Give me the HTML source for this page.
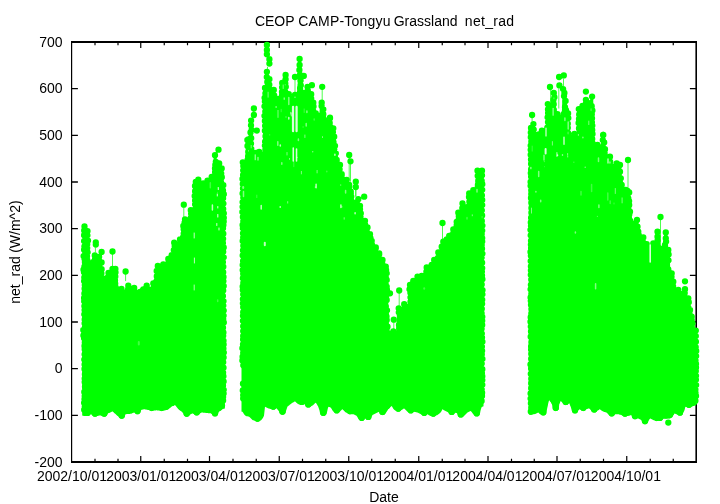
<!DOCTYPE html>
<html lang="en"><head><meta charset="utf-8"><title>CEOP CAMP-Tongyu Grassland net_rad</title>
<style>html,body{margin:0;padding:0;background:#fff;overflow:hidden}svg{display:block}</style></head>
<body>
<svg width="720" height="504" viewBox="0 0 720 504" role="img" aria-label="CEOP CAMP-Tongyu Grassland net_rad time series">
<rect x="0" y="0" width="720" height="504" fill="#fff"/>
<g stroke="#000" fill="none">
<path stroke-width="1.9" d="M71.0 42.0H697.0M71.0 462.0H697.0"/>
<path stroke-width="1.2" d="M71.6 42.0V462.0"/><path stroke-width="1.6" d="M696.2 42.0V462.0"/>
<path stroke-width="1.2" d="M95 462.0v-3.2M95 42.0v3.2M118 462.0v-3.2M118 42.0v3.2M140.75 462.0v-6M140.75 42.0v6M164.25 462.0v-3.2M164.25 42.0v3.2M187.5 462.0v-3.2M187.5 42.0v3.2M209.5 462.0v-6M209.5 42.0v6M233 462.0v-3.2M233 42.0v3.2M256.25 462.0v-3.2M256.25 42.0v3.2M279.25 462.0v-6M279.25 42.0v6M302.5 462.0v-3.2M302.5 42.0v3.2M325.75 462.0v-3.2M325.75 42.0v3.2M348.75 462.0v-6M348.75 42.0v6M371.75 462.0v-3.2M371.75 42.0v3.2M395.25 462.0v-3.2M395.25 42.0v3.2M418.75 462.0v-6M418.75 42.0v6M442.25 462.0v-3.2M442.25 42.0v3.2M465 462.0v-3.2M465 42.0v3.2M488 462.0v-6M488 42.0v6M511.5 462.0v-3.2M511.5 42.0v3.2M534.25 462.0v-3.2M534.25 42.0v3.2M557 462.0v-6M557 42.0v6M580.25 462.0v-3.2M580.25 42.0v3.2M603.5 462.0v-3.2M603.5 42.0v3.2M626.75 462.0v-6M626.75 42.0v6M650.25 462.0v-3.2M650.25 42.0v3.2M673.25 462.0v-3.2M673.25 42.0v3.2"/>
<path stroke-width="1.4" d="M71.6 415.33h6.3M696.2 415.33h-6.3M71.6 368.67h6.3M696.2 368.67h-6.3M71.6 322.00h6.3M696.2 322.00h-6.3M71.6 275.33h6.3M696.2 275.33h-6.3M71.6 228.67h6.3M696.2 228.67h-6.3M71.6 182.00h6.3M696.2 182.00h-6.3M71.6 135.33h6.3M696.2 135.33h-6.3M71.6 88.67h6.3M696.2 88.67h-6.3"/>
</g>
<g fill="#00ff00" stroke="none"><polygon points="82.2,255.5 82.8,240.5 83.2,225.8 83.8,225.2 84.2,225 84.8,225 85.2,225.2 85.8,225.8 86.2,228.8 86.8,229.2 87.2,229.5 87.8,229.8 88.2,229.8 88.8,230.5 89.2,261 89.8,261.5 90.2,261.8 91.2,261.8 91.8,261.5 92.2,261 92.8,260.2 93.2,255.2 93.8,254.2 94.2,254 95.2,254 95.8,254.5 96.2,255 96.8,255.5 98.2,255.5 98.8,255.2 99.2,255.2 99.8,255.5 100.2,255.8 100.8,267 101.2,267.5 101.8,267.8 102.2,268 102.8,268.2 103.2,276.8 103.8,277.2 104.2,277.5 105.2,277.5 105.8,277.2 106.2,276.8 106.8,276.2 107.2,272.2 107.8,271.8 108.2,271.5 109.8,271.5 110.2,271.2 110.8,270.8 111.2,268.2 111.8,267.8 112.2,267.5 112.8,267.5 113.2,267.8 114.8,267.8 115.2,267.5 115.8,267.5 116.2,267.8 116.8,268.5 117.2,288.2 117.8,288.8 118.2,289 119.2,289 119.8,288.8 120.2,288.2 120.8,287.8 121.2,287.5 121.8,287.5 122.2,287.8 122.8,288.2 123.2,289 123.8,289.5 125.2,289.5 125.8,289 126.2,287.8 126.8,285.8 127.2,284.5 127.8,284.2 128.2,284 128.8,284.2 129.2,284.5 129.8,285.2 130.2,287.2 130.8,287.8 132.2,287.8 132.8,287.2 133.2,286.8 133.8,286.5 134.2,286.5 134.8,286.8 135.2,287 135.8,288.2 136.2,291 136.8,291.5 138.2,291.5 138.8,291 139.2,290.5 139.8,290.2 140.8,290.2 141.2,289.8 141.8,289.2 142.2,288.2 142.8,288 143.2,287.8 143.8,287.8 144.2,287.5 144.8,287 145.2,285.2 145.8,284.5 146.2,284.2 147.2,284.2 147.8,284.8 148.2,286 148.8,286.5 149.2,286.8 150.2,286.8 150.8,286.5 151.2,286 151.8,283.5 152.2,282.5 152.8,282.2 153.2,282 153.8,281.8 154.2,281.5 154.8,281 155.2,270.5 155.8,269.8 156.2,266 156.8,265 157.2,264.8 157.8,264.5 158.2,264.5 158.8,264.8 159.2,265.2 160.8,265.2 161.2,264.8 161.8,264.2 162.2,263.2 162.8,263 163.2,262.8 163.8,263 164.2,263.2 165.8,263.2 166.2,262.8 166.8,259 167.2,258 167.8,257.8 168.2,257.5 168.8,257.2 169.2,257 169.8,256.5 170.2,254.8 170.8,254 171.2,253.8 171.8,253.5 172.2,253 172.8,242.2 173.2,241.5 173.8,241.2 174.8,241.2 175.2,241.8 175.8,242.2 176.2,242.5 177.2,242.5 177.8,242.2 178.2,241.8 178.8,238.5 179.2,238 179.8,237.8 180.8,237.8 181.2,237.2 181.8,226 182.2,225 182.8,224.5 183.2,224 183.8,218.5 184.2,218 184.8,217.8 185.2,217.8 185.8,218 186.2,218.5 186.8,219 188.2,219 188.8,218.5 189.2,210.2 189.8,209 190.2,208.8 190.8,208.5 191.2,208.8 192.2,208.8 192.8,208.5 193.2,208 193.8,185.2 194.2,181.8 194.8,180.8 195.2,180.5 195.8,180.2 196.2,180 196.8,179.5 197.2,178.5 197.8,178.2 198.2,178 198.8,178.2 199.2,178.5 199.8,179.2 200.2,182 200.8,182.5 202.2,182.5 202.8,182.2 203.2,182 204.8,182 205.2,181.8 205.8,181.2 206.2,179.8 206.8,179.5 207.2,179.2 207.8,179 208.8,179 209.2,178.8 209.8,178.2 210.2,176.2 210.8,175.8 211.2,175.5 211.8,175.2 212.2,175.2 212.8,175 213.2,174.5 213.8,154.2 214.2,154 214.8,153.8 215.2,153.8 215.8,154 216.2,154.5 216.8,160.5 217.2,161.2 217.8,161.8 218.8,161.8 219.2,162 219.8,162.2 220.2,162.5 220.8,163.8 221.2,166.5 221.8,167 222.2,167.2 222.8,167.5 223.2,168.8 223.8,183.5 224.2,184 224.8,184.8 224.8,408.5 224.2,408.8 223.2,408.8 222.8,409 222.2,409.5 221.8,409.8 221.2,410.2 220.8,410.5 220.2,410.8 219.8,411.2 219.2,411.5 218.8,412 218.2,413.5 217.8,415 217.2,415.8 216.8,416 216.2,416.5 213.8,416.5 213.2,416 212.8,415.8 212.2,415 211.8,414 211.2,413.8 210.8,413.2 208.2,413.2 207.8,413 205.8,413 205.2,412.8 203.2,412.8 202.8,412.5 201.8,412.5 201.2,412.8 200.8,413 200.2,413.2 199.8,413.8 199.2,414.5 198.8,415 198.2,415.2 197.8,415.5 197.2,415.5 196.8,415.8 196.2,415.5 195.8,415.5 195.2,415.2 194.8,415 194.2,414.5 193.8,414 193.2,413.8 192.8,413.5 192.2,413.5 191.8,413.8 191.2,414 190.8,414.2 190.2,414.5 189.8,415 189.2,415.8 188.8,416.2 188.2,416.5 187.8,416.8 187.2,416.8 186.8,417 186.2,416.8 185.8,416.8 185.2,416.5 184.8,416.2 184.2,415.8 183.8,415 183.2,413.2 182.8,412.8 182.2,412.2 181.8,411.8 181.2,411.2 180.8,411 180.2,410.8 179.8,410.2 179.2,410 178.8,409.5 178.2,409 177.8,408.5 177.2,407.8 176.8,407.2 176.2,406.5 175.8,406 175.2,405.2 174.8,405 174.2,405.2 173.8,405.5 173.2,405.8 172.8,406 172.2,406.2 171.8,406.5 171.2,407 170.8,407.5 170.2,407.8 169.8,408.2 169.2,408.5 168.8,409 168.2,409.5 167.8,409.8 167.2,410 166.2,410 165.8,410.2 165.2,410.2 164.8,410.5 163.8,410.5 163.2,410.8 162.8,411 162.2,411 161.8,411.2 161.2,411 160.8,411 160.2,410.8 159.8,410.8 159.2,410.5 157.2,410.5 156.8,410.2 156.2,410.2 155.8,410.5 153.8,410.5 153.2,410.8 152.8,411 152.2,411 151.8,411.2 151.2,411 150.8,411 150.2,410.8 149.8,410.5 149.2,410.2 148.8,410 147.8,410 147.2,409.8 146.8,409.8 146.2,409.5 145.2,409.5 144.8,409.2 143.8,409.2 143.2,409.5 142.8,409.5 142.2,409.8 141.8,409.8 141.2,410 140.8,411.2 140.2,412.8 139.8,413.5 139.2,413.8 138.8,414.2 136.2,414.2 135.8,413.8 135.2,413.5 134.8,412.8 134.2,412.5 133.8,412.8 133.2,412.8 132.8,413 132.2,413.2 131.8,413.5 131.2,413.8 130.2,413.8 129.8,414 126.8,414 126.2,414.2 125.8,414.2 125.2,414.8 124.8,417 124.2,417.8 123.8,418.2 123.2,418.5 122.8,418.8 122.2,418.8 121.8,419 121.2,418.8 120.8,418.8 120.2,418.5 119.8,418.2 119.2,417.8 118.8,417 118.2,416.2 117.8,416 117.2,415.8 116.8,415.2 116.2,414.8 115.8,414.2 115.2,413.8 114.8,413.5 114.2,413 113.8,412.5 113.2,412 112.8,411.5 112.2,411.5 111.8,411.8 111.2,412 110.8,412.2 110.2,412.5 109.8,412.8 109.2,413 108.8,413 108.2,413.2 107.8,413.8 107.2,415 106.8,415.8 106.2,416.2 105.8,416.5 105.2,416.8 104.8,416.8 104.2,417 103.8,416.8 103.2,416.8 102.8,416.5 102.2,416.2 101.8,416 101.2,415.8 100.8,415.5 99.2,415.5 98.8,415.8 98.2,415.8 97.8,416 97.2,416 96.8,416.2 96.2,416.8 93.8,416.8 93.2,416.2 92.8,416 92.2,415.2 91.8,414.8 91.2,414.5 90.8,414.2 90.2,414.5 89.8,415.2 89.2,415.5 88.8,416 83.8,416 83.2,415.8 82.8,415.8 82.2,415.5"/><polygon points="241.5,161.5 242,161 242.5,160.8 243,160.8 243.5,161 244.5,161 245,160.8 245.5,160.2 246,139.2 246.5,138.8 247,138.5 247.5,138 248,137.8 248.5,137.2 249,132 249.5,120.5 250,119.5 250.5,119.2 251,119 251.5,119.2 252,119.5 252.5,120.2 253,151.2 253.5,151.8 255,151.8 255.5,151.5 257,151.5 257.5,151.2 258,151 258.5,150.5 259,150.2 259.5,150.5 260,150.8 260.5,151 261,151.5 262.5,151.5 263,151 263.5,87.5 264,86.8 264.5,86.5 265,86 265.5,71 266,70.5 266.5,70.2 267,70.2 267.5,70.5 268,70.8 268.5,77 269,77.5 269.5,77.8 270,78 270.5,78.2 271,87.8 271.5,88.2 272,88.5 273,88.5 273.5,88.2 274,88.5 274.5,88.8 275,89.2 275.5,97.2 276,97.8 276.5,98 277.5,98 278,97.8 278.5,97.5 279,97.2 279.5,97 280,96.8 280.5,96.2 281,82 281.5,81.8 282,81.5 282.5,81.5 283,81.2 283.5,80.8 284,79.2 284.5,78.2 285,78 285.5,77.8 286,77.8 286.5,78 287,79 287.5,92 288,92.5 288.5,92.8 289,92.8 289.5,93 290,93.5 290.5,94.5 291,95 291.5,95.2 292.5,95.2 293,95 293.5,94.5 294,93.8 294.5,93.5 295,93.2 295.5,93.5 297,93.5 297.5,93 298,64.8 298.5,63.8 299,63.5 299.5,63.2 300,63.5 300.5,63.8 301,64.5 301.5,79.2 302,80.2 302.5,90.8 303,91.2 303.5,91.5 305,91.5 305.5,91 306,86.2 306.5,85.5 307,85.2 307.5,85.2 308,85.5 308.5,85.8 309,86.8 309.5,92.2 310,92.8 311.5,92.8 312,93 312.5,93.5 313,100.5 313.5,101 314,101.5 314.5,101.8 315,111.2 315.5,111.8 316,112 316.5,112.2 317,112.5 317.5,113 319,113 319.5,112.5 320,102.8 320.5,101.8 321,101.2 322,101.2 322.5,101.5 323,102.2 323.5,107.5 324,108 324.5,108.5 325,111.8 325.5,117.2 326,117.8 326.5,118 327.5,118 328,117.8 328.5,117.2 329,116.5 329.5,116.2 330.5,116.2 331,116.5 331.5,117.8 332,126.2 332.5,126.8 333.5,126.8 334,127 334.5,127.5 335,135.5 335.5,136.2 336,144.8 336.5,146 337,152.5 337.5,158.8 338,159.5 338.5,162.8 339,163.2 339.5,163.2 340,163.5 340.5,163.8 341,164 341.5,165 342,172.5 342.5,173 343,173.8 343.5,178.5 344,179 345.5,179 346,178.8 346.5,178.5 347,178.5 347.5,178.8 348,179.5 348.5,183 349,183.5 349.5,183.5 350,183.8 350.5,184.5 351,190 351.5,190.5 352,190.8 352.5,192.8 353,195.2 353.5,197.8 354,199.2 354.5,199.8 356,199.8 356.5,199.2 357,198.5 357.5,198 358,197.8 358.5,197.8 359,198 359.5,198.2 360,203.8 360.5,204.2 361,204.8 361.5,206 362,212.5 362.5,218.5 363,219 363.5,219.2 365,219.2 365.5,219.5 366,219.8 366.5,221 367,225.5 367.5,226 368,226.2 368.5,226.5 369,227.5 369.5,232.2 370,232.8 370.5,232.8 371,233 371.5,234.2 372,239.2 372.5,239.8 373,240.2 373.5,245.5 374,246 376,246 376.5,246.2 377,246.8 377.5,251 378,251.5 378.5,251.8 379,251.8 379.5,252 380,252.2 380.5,252.8 381,257.8 381.5,258.2 382,258.2 382.5,258.5 383,258.8 383.5,259 384,260 384.5,264.5 385,265 385.5,265 386,265.2 386.5,265.5 387,265.8 387.5,272 388,272.8 388.5,325.5 389,326.8 389.5,330.5 390,331 391.5,331 392,330.5 392.5,330 393,329.8 393.5,329.8 394,330 394.5,330.5 396,330.5 396.5,330 397,308.5 397.5,307.2 398,307 398.5,306.8 399,307 399.5,307.2 400,307.5 401.5,307.5 402,307 402.5,304.2 403,303.2 403.5,302.8 404.5,302.8 405,303 405.5,303.5 406,304 407.5,304 408,303.5 408.5,284.5 409,283.8 409.5,283.5 410,283.5 410.5,283.2 411,283 411.5,282.5 412,280 412.5,279.5 413,279.2 415,279.2 415.5,278.8 416,276.2 416.5,275.5 417,275.2 418,275.2 418.5,275.5 419.5,275.5 420,275.2 420.5,274.8 421,274.5 421.5,274.2 422,274.5 422.5,274.8 424,274.8 424.5,274.2 425,267.8 425.5,266.5 426,266.2 426.5,266 427,266 427.5,266.2 429,266.2 429.5,265.8 430,265.2 430.5,264 431,263.8 431.5,263.5 432,263 432.5,260.2 433,259 433.5,258.8 434,258.5 435.5,258.5 436,258.2 436.5,257.8 437,251.8 437.5,251.2 438,251 438.5,251 439,250.8 439.5,250.2 440,246.8 440.5,245.8 441,245.2 441.5,244.8 442,241 442.5,240.5 443,240.2 443.5,240 444,240 444.5,239.8 445,239.2 445.5,238.2 446,238 446.5,237.8 447,237.2 447.5,236 448,234.8 448.5,234.5 449,234.2 450.5,234.2 451,234 451.5,233.5 452,228.5 452.5,228 453,227.8 454,227.8 454.5,227.2 455,222 455.5,220.8 456,220.2 456.5,219.8 457,212 457.5,211.5 458,211.2 460,211.2 460.5,210.8 461,203 461.5,202.2 462,202 462.5,202 463,202.2 463.5,202.5 464,203.5 464.5,204 465,204.2 466,204.2 466.5,204 467,203.5 467.5,193.8 468,192.5 468.5,192.2 469,192 470.5,192 471,191.8 471.5,191.2 472,189.5 472.5,189 473,188.8 475,188.8 475.5,188.2 476,170.2 476.5,169.5 477,169.2 478,169.2 478.5,169.5 479,170 480.5,170 481,169.5 481.5,169.2 482.5,169.2 483,169.5 483.5,170.8 483.5,406.2 483,406.5 482.5,406.8 482,406.8 481.5,407.5 481,409 480.5,410.8 480,413.5 479.5,415 479,415.8 478.5,416 478,416.5 475.5,416.5 475,416 474.5,415.8 474,415 473.5,414.2 473,413.8 472.5,413.2 472,412.5 471.5,411.8 471,411.2 470.5,411 470,411.2 469.5,411.5 469,411.8 468.5,412 468,412.2 467.5,412.5 467,413 466.5,413.5 466,414 465.5,414.5 465,415 464.5,415.5 464,416 463.5,416.2 463,416.8 462.5,417 462,417.5 459.5,417.5 459,417 458.5,416.8 458,416 457.5,414.5 457,413.2 456.5,413 456,412.8 455.5,412.8 455,412.5 454.5,413.5 454,414.2 453.5,414.5 453,415 450.5,415 450,414.5 449.5,414.2 449,413.5 448.5,412.8 448,412.2 447.5,412 447,411.8 446.5,411.5 446,411.2 445.5,411 445,410.8 444.5,410.5 444,410.2 443.5,410 443,409.5 442.5,409.2 442,410 441.5,411 441,412 440.5,412.5 440,413 439.5,413.5 439,413.8 438.5,414.2 438,414.5 437.5,415 437,415.2 436.5,415.2 436,415.5 435.5,416 435,416.2 434.5,416.8 432,416.8 431.5,416.2 431,416 430.5,416 430,415.8 429.5,415.5 429,415.2 428.5,415 428,414.5 427.5,414.2 427,414.5 426.5,415.2 426,415.5 425.5,416 423,416 422.5,415.5 422,415.2 421.5,414.5 421,414.2 420.5,414 420,413.8 419.5,413.5 419,413.2 418.5,413 418,412.8 417.5,412.5 417,412.5 416.5,412.2 416,412.2 415.5,412 415,412 414.5,411.8 414,411.8 413.5,412 413,412.8 412.5,413 412,413.5 409.5,413.5 409,413 408.5,412.8 408,412 407.5,411.8 407,411.2 406.5,410.8 406,410.2 405.5,409.8 405,409.2 404.5,408.8 404,408.5 403.5,408.8 403,409 402.5,409.5 402,409.8 401.5,410 401,410.2 400.5,411 400,411.2 399.5,411.8 397,411.8 396.5,411.2 396,411 395.5,410.5 395,410.2 394.5,410 394,409.5 393.5,409 393,408.2 392.5,407.2 392,406.5 391.5,406 391,406.5 390.5,407 390,407.5 389.5,408 389,408.5 388.5,409 388,409.5 387.5,410.5 387,411.2 386.5,412 386,412.8 385.5,413.2 385,414 384.5,414.5 384,414.8 383.5,415 383,415 382.5,415.2 382,415 381.5,415 381,414.8 380.5,414.5 380,414 379.5,413.2 379,411.8 378.5,412 378,412.2 377.5,412.5 377,412.8 376.5,413 376,413.2 375.5,413.5 375,413.8 374.5,414 374,414.2 373.5,414.5 373,414.8 372.5,415 372,416 371.5,417.2 371,418.5 370.5,419.2 370,419.5 369.5,420 367,420 366.5,419.5 366,419.2 365.5,418.5 365,418.2 364.5,419.5 364,420.2 363.5,420.5 363,421 360.5,421 360,420.5 359.5,420.2 359,419.5 358.5,419 358,418.2 357.5,417.2 357,416.5 356.5,415.8 356,415.5 355.5,415.2 355,415 354.5,414.8 354,414.5 353.5,414.2 350.5,414.2 350,414.5 349.5,414.2 349,414.2 348.5,414 348,413.8 347.5,413.2 347,413 346.5,412.8 346,412.5 345.5,412.2 345,411.8 344.5,411.2 344,410.8 343.5,410.2 343,409.8 342.5,409.2 342,409.5 341.5,410 341,410.5 340.5,411 340,411.5 339.5,412 339,412.8 338.5,413 338,413.5 335.5,413.5 335,413 334.5,412.8 334,412 333.5,411.5 333,411 332.5,410.5 332,409.5 331.5,408.8 331,408 330.5,407.5 330,407.2 329.5,407 329,407 328.5,406.8 328,407.8 327.5,410 327,412.2 326.5,414 326,414.5 325.5,415.2 325,415.5 324.5,416 322,416 321.5,415.5 321,415.2 320.5,414.5 320,413 319.5,410.5 319,409 318.5,407.5 318,406.2 317.5,405.5 317,404.5 316.5,403.8 316,403 315.5,402.8 315,403.2 314.5,403.8 314,404.2 313.5,404.8 313,405.2 312.5,405.5 312,405.8 311.5,406 311,406.2 310.5,406.8 310,407 309.5,407.5 307,407.5 306.5,407 306,406.8 305.5,406 305,404.5 304.5,404.2 304,404.5 303.5,404.5 303,405 300.5,405 300,404.5 299.5,404.5 299,404.2 298.5,404.2 298,404 297.5,403.5 297,403 296.5,402.8 296,402.2 295.5,401.8 295,401.5 294.5,401.5 294,402 293.5,402.2 293,402.5 292.5,402.8 292,403 291.5,403.5 291,403.8 290.5,404.2 290,404.5 289.5,405 289,405.5 288.5,405.8 288,406.2 287.5,406.5 287,408 286.5,409.5 286,411 285.5,413 285,413.8 284.5,414.2 284,414.5 283.5,414.8 283,414.8 282.5,415 282,414.8 281.5,414.8 281,414.5 280.5,414.2 280,413.8 279.5,413 279,411.2 278.5,410.8 278,410 277.5,409.5 277,408.8 276.5,408.2 276,408.5 275.5,409 275,409.2 274.5,409.8 272,409.8 271.5,409.2 271,409 270.5,409 270,408.8 269.5,408.8 269,408.5 268.5,408.5 268,408.2 267.5,408 267,407.8 266.5,407.5 266,407.2 265.5,407 265,406.8 264.5,411.2 264,415.8 263.5,416.8 263,417.8 262.5,418.5 262,419.2 261.5,419.8 261,420.2 260.5,420.5 260,420.8 259.5,421.2 259,421.5 258.5,421.8 258,421.8 257.5,422 257,421.8 256.5,421.8 256,421.5 255.5,421.2 255,420.8 254.5,420.8 254,420.5 253.5,420.2 253,420.2 252.5,420 252,419.5 251.5,419 251,418.5 250.5,418 250,417.5 249.5,417 249,416.8 248.5,416.5 248,416.5 247.5,416.2 246.5,416.2 246,416 245.5,415.8 245,415.2 244.5,414.8 244,414.2 243.5,413.2 243,412.5 242.5,411.8 242,411.8 241.5,411.5"/><polygon points="528.8,128.5 529.2,128 529.8,127 530.2,126.8 530.8,126.5 531.2,126 531.8,123.8 532.2,123 532.8,122.8 533.2,122.5 533.8,122.8 534.2,123 534.8,124 535.2,133 535.8,133.5 537.2,133.5 537.8,133.2 538.2,133 538.8,132.8 539.2,132.8 539.8,132.2 540.2,130.2 540.8,129.5 541.2,129.2 541.8,129 542.2,129.2 542.8,129.5 543.2,130 543.8,130.2 544.8,130.2 545.2,130 545.8,129.5 546.2,103.5 546.8,103 547.2,102.8 547.8,102.5 548.2,102.8 548.8,103.2 549.2,103.8 549.8,104 550.8,104 551.2,103.8 551.8,103.2 552.2,92.2 552.8,91.8 553.2,91.5 553.8,91.2 554.2,91.5 554.8,92 555.2,96.2 555.8,97.2 556.2,112 556.8,112.5 557.2,112.5 557.8,112.8 558.2,113 558.8,113.8 559.2,114.2 559.8,114.5 560.8,114.5 561.2,114.2 561.8,113.8 562.2,103 562.8,92.5 563.2,91.8 563.8,91.5 564.2,91.2 564.8,91.5 565.2,91.8 565.8,92.8 566.2,99.5 566.8,100.2 567.2,111.2 567.8,111.8 568.2,112 568.8,112.2 569.2,112.8 569.8,133.5 570.2,134 570.8,134.2 571.8,134.2 572.2,134 572.8,133.5 573.2,132.5 573.8,132.2 575.8,132.2 576.2,132 576.8,131.5 577.2,108.5 577.8,108 578.2,107.8 578.8,107.5 579.8,107.5 580.2,107 580.8,106 581.2,105 581.8,104.8 582.2,104.5 582.8,104.2 583.2,104.2 583.8,103.8 584.2,99.5 584.8,98.5 585.2,98.2 585.8,98.2 586.2,98.5 586.8,98.8 587.2,99.8 587.8,100.2 588.2,100.5 589.2,100.5 589.8,100.2 590.2,99.8 590.8,95.8 591.2,95.2 591.8,95 592.2,95.2 592.8,95.5 593.2,96 593.8,143.5 594.2,144 594.8,144.2 595.8,144.2 596.2,144 596.8,143.8 597.2,143.5 597.8,143.5 598.2,143.8 598.8,144.2 599.2,144.5 600.2,144.5 600.8,144.2 601.2,143.8 601.8,134 602.2,133.8 602.8,133.5 603.2,133.5 603.8,133.8 604.2,134 604.8,135.2 605.2,141.8 605.8,148 606.2,148.8 606.8,155 607.2,155.5 608.8,155.5 609.2,155.2 610.2,155.2 610.8,155.5 611.2,156.2 611.8,160.8 612.2,163.2 612.8,163.8 614.2,163.8 614.8,163.2 615.2,162.5 615.8,162 616.2,161.8 616.8,161.8 617.2,162 617.8,162.5 618.2,163 618.8,163.2 619.2,163.2 619.8,163.5 620.2,163.5 620.8,163.8 621.2,164.5 621.8,177.2 622.2,178.5 622.8,184.2 623.2,187.8 623.8,188.2 624.2,188.5 625.8,188.5 626.2,188.8 626.8,189 627.2,189.2 627.8,189.5 628.2,189.8 628.8,190.2 629.2,190.8 629.8,191.2 630.2,191.8 630.8,210.5 631.2,211.2 631.8,215.8 632.2,220 632.8,220.5 633.2,220.8 634.2,220.8 634.8,220.5 635.2,220 635.8,219 636.2,218.8 636.8,218.5 637.2,218.5 637.8,218.8 638.2,219.5 638.8,226.2 639.2,230.8 639.8,231.8 640.2,235.8 640.8,236.2 642.2,236.2 642.8,236 643.2,236 643.8,236.2 644.2,236.5 644.8,237.8 645.2,242 645.8,242.5 646.2,242.5 646.8,242.8 647.2,243 647.8,243.5 648.2,244.2 648.8,244.8 650.2,244.8 650.8,244.2 651.2,243.5 651.8,242.8 652.2,242.2 652.8,242 653.2,241.8 654.8,241.8 655.2,241.2 655.8,231.8 656.2,230.5 656.8,230.2 657.8,230.2 658.2,230.5 658.8,231.2 659.2,235.8 659.8,240.5 660.2,245 660.8,245.5 661.2,245.8 662.2,245.8 662.8,245.5 663.2,245 663.8,244 664.2,232 664.8,231.2 665.2,231 665.8,231 666.2,231.2 666.8,231.5 667.2,232.8 667.8,248 668.2,248.5 668.8,248.8 669.2,249 669.8,250.2 670.2,271.2 670.8,271.8 671.8,271.8 672.2,272 672.8,272.5 673.2,279.8 673.8,280.2 674.2,280.8 674.8,281.8 675.2,288.2 675.8,288.8 677.2,288.8 677.8,288.5 678.2,288.5 678.8,288.8 679.2,289 679.8,290.2 680.2,290.8 680.8,291 681.8,291 682.2,290.8 682.8,290.2 683.2,289.2 683.8,288 684.2,287.8 685.2,287.8 685.8,288 686.2,288.8 686.8,296.2 687.2,296.8 688.2,296.8 688.8,297 689.2,297.2 689.8,298.5 690.2,308.2 690.8,308.8 691.2,309.5 691.8,315 692.2,315.5 692.8,316 693.2,322 693.8,323 694.2,328.5 694.8,329 695.8,329 696.2,329.2 696.8,329.5 697.2,330.8 697.2,403.8 696.8,404.2 696.2,404.8 695.8,405.2 695.2,405.5 694.8,405.5 694.2,405.8 693.8,406 693.2,406 692.8,406.2 692.2,406.5 691.8,406.8 691.2,407.2 690.8,407.5 690.2,408 687.8,408 687.2,407.5 686.8,407.2 686.2,407 685.8,406.8 685.2,407.2 684.8,409.2 684.2,411 683.8,411.8 683.2,412.8 682.8,414.2 682.2,415 681.8,415.2 681.2,415.8 678.8,415.8 678.2,415.2 677.8,415 677.2,414.5 676.8,414.2 676.2,414.2 675.8,414 675.2,413.8 674.8,413.5 674.2,413.2 673.8,414.5 673.2,415.5 672.8,416.8 672.2,417.2 671.8,417.8 671.2,418 670.8,418.2 670.2,418.2 669.8,418.5 667.8,418.5 667.2,418.8 663.8,418.8 663.2,419 662.8,419.5 662.2,420.2 661.8,420.5 661.2,421 658.8,421 658.2,420.8 657.8,421 657.2,421 656.8,421.2 656.2,421 655.8,421 655.2,420.8 654.8,420.5 654.2,420.2 653.8,420.2 653.2,420 652.8,419.8 652.2,419.5 651.8,419.2 651.2,419 650.8,418.8 650.2,418.5 649.8,418.5 649.2,419.5 648.8,420.5 648.2,421.5 647.8,422.8 647.2,423.5 646.8,423.8 646.2,424.2 643.8,424.2 643.2,423.8 642.8,423.5 642.2,422.8 641.8,421.2 641.2,420 640.8,419.8 640.2,419.5 639.8,419.2 639.2,419 638.8,418.8 638.2,418.5 637.2,418.5 636.8,418.8 636.2,419.2 633.8,419.2 633.2,418.8 632.8,418.5 632.2,417.8 631.8,416.2 631.2,415 630.8,415.2 630.2,415.2 629.8,415.5 629.2,415.5 628.8,415.8 628.2,415.8 627.8,416 627.2,416 626.8,416.2 626.2,416.8 623.8,416.8 623.2,416.2 622.8,416 622.2,415.5 621.8,415.2 621.2,415 620.8,414.8 620.2,414.8 619.8,414.5 619.2,414.5 618.8,414.2 615.2,414.2 614.8,414.8 614.2,415.5 613.8,416 613.2,416.2 612.8,416.5 612.2,416.5 611.8,416.8 611.2,416.5 610.8,416.5 610.2,416.2 609.8,416 609.2,415.5 608.8,414.8 608.2,414.2 607.8,413.8 607.2,413.2 606.8,412.8 606.2,412.5 605.8,412.2 605.2,412.2 604.8,412 604.2,412 603.8,411.8 603.2,411.5 602.8,411.2 602.2,411 601.8,410.5 601.2,410.2 600.8,409.8 600.2,409.5 599.8,409.2 599.2,409.5 598.8,410 598.2,410.2 597.8,410.5 597.2,410.8 596.8,411.5 596.2,412 595.8,412.2 595.2,412.5 594.8,412.5 594.2,412.8 593.8,412.5 593.2,412.5 592.8,412.2 592.2,412 591.8,411.5 591.2,410.8 590.8,410 590.2,409.5 589.8,409 589.2,408.5 588.2,408.5 587.8,408.8 587.2,409 586.8,409 586.2,409.2 585.8,410 585.2,410.5 584.8,410.8 584.2,411 583.8,411 583.2,411.2 582.8,411 582.2,411 581.8,410.8 581.2,410.5 580.8,410 580.2,409.5 579.8,409.2 579.2,409.5 578.8,410 578.2,410.5 577.8,412 577.2,412.8 576.8,413 576.2,413.5 573.8,413.5 573.2,413 572.8,412.8 572.2,412 571.8,410.5 571.2,408.5 570.8,407 570.2,405.8 569.8,404.5 569.2,403.2 568.8,403.2 568.2,404 567.8,404.5 567.2,404.8 566.8,405 566.2,405 565.8,405.2 565.2,405 564.8,405 564.2,404.8 563.8,404.5 563.2,404 562.8,403.2 562.2,402.5 561.8,402 561.2,401.5 560.8,401 560.2,402 559.8,403.2 559.2,404.5 558.8,409.2 558.2,410 557.8,410.5 557.2,410.8 556.8,411 556.2,411 555.8,411.2 555.2,411 554.8,411 554.2,410.8 553.8,410.5 553.2,410 552.8,409.2 552.2,405.5 551.8,404 551.2,403 550.8,402.2 550.2,401.8 549.8,401 549.2,400.2 548.8,401.2 548.2,403.5 547.8,405.8 547.2,408.2 546.8,410.5 546.2,413.8 545.8,414.5 545.2,415 544.8,415.2 544.2,415.5 543.8,415.5 543.2,415.8 542.8,415.5 542.2,415.5 541.8,415.2 541.2,415 540.8,414.5 540.2,414.2 539.8,414 539.2,413.5 538.8,413 538.2,412.5 537.8,412.8 537.2,413 536.8,413.2 536.2,413.5 535.8,413.8 535.2,414 534.8,414 534.2,414.2 533.2,414.2 532.8,414.5 532.2,414.5 531.8,414.8 531.2,414.8 530.8,415 530.2,414.8 529.8,414.8 529.2,414.5 528.8,414.2"/></g>
<g id="series" fill="none" stroke="#00ff00" stroke-linecap="round">
<path stroke-width="6.3" d="M112.5 251.5h0M125.6 271.5h0M183.8 204.7h0M322.2 86.8h0M349.2 155h0M350.5 161.3h0M355.8 181.7h0M355.8 187h0M442.5 223h0M399.2 290.5h0M393.8 319.7h0M628 160h0M660.5 217h0M668.3 422.6h0M84.8 234.2h0M86.6 244.9h0M86 251.8h0M86.6 259.2h0M95.8 242.4h0M95.8 244.5h0M101.6 252h0M101.6 262.4h0M218.5 149.7h0M253.9 108.5h0M253.9 115h0M256.8 130.6h0M266.9 44.9h0M266.9 49.9h0M266.9 54.2h0M269.4 59.2h0M269.4 63.6h0M285.6 74.9h0M299.6 59h0M295 77h0M303.8 75.9h0M311.9 85.2h0M364.2 196.7h0M390 293.3h0M532.1 115h0M550 87h0M559.1 77h0M563.8 75.4h0M559.4 85.4h0M563.1 89.1h0M585.9 91.6h0M685 281.3h0M84.5 226.5h0M87.5 231.1h0M84.1 241.1h0M83.6 256.1h0M94.8 255.5h0M99.1 256.8h0M93.5 261.8h0M101.6 269.2h0M112.5 269h0M115.4 269h0M108.5 273h0M107.2 278h0M128.3 285.7h0M134.2 288h0M140 291.8h0M143.3 289.3h0M146.7 285.7h0M153.3 283.5h0M156.7 271h0M157.8 266h0M163.3 264.3h0M168.3 259h0M171.7 255.2h0M174.2 242.7h0M180 239.3h0M183.3 226h0M185 219.3h0M190.8 210.2h0M195 186h0M195.8 181.8h0M198.3 179.7h0M203.3 183.5h0M207.5 180.7h0M211.7 176.8h0M215 168.5h0M215.8 161.8h0M215 155.2h0M219.2 163.5h0M221.7 168.5h0M223.3 185.2h0M242.8 162.3h0M248.3 139.3h0M247.5 146h0M251.1 120.6h0M250.5 132.5h0M247.4 140h0M259.2 151.9h0M266.9 71.8h0M269.4 79.2h0M265 88h0M273.8 89.9h0M285.6 79.2h0M282.2 83h0M279.4 98.6h0M288.8 94.2h0M295 94.9h0M299.6 64.9h0M300.6 80.5h0M303.8 93h0M307.5 86.8h0M311.2 94.2h0M315.8 113.5h0M323.3 109.3h0M330 117.7h0M321.7 102.7h0M313.3 102.7h0M330 118.3h0M333.3 128.3h0M334.2 136.7h0M335 145.8h0M335.8 153.3h0M336.7 160h0M340 165h0M341.7 174.2h0M346.7 180h0M349.2 185h0M350.8 191.7h0M341.7 175h0M346.7 180h0M349.2 186.7h0M350.8 193.3h0M358.3 199.2h0M360 205.8h0M360.8 213.3h0M365 220.8h0M367.5 227.5h0M370 234.2h0M371.7 240.8h0M375.8 248h0M379.2 253.3h0M438.3 252.5h0M446.7 240h0M449.2 235.8h0M375.8 247.5h0M379.2 254.2h0M382.5 260h0M385.8 266.7h0M386.7 273.3h0M386.7 280h0M386.7 286.7h0M386.7 300h0M385.8 306.7h0M385.8 313.3h0M386.7 320h0M387.5 326.7h0M393.3 331.3h0M398.7 308.3h0M400 315h0M400 321.7h0M399.2 328.3h0M404.2 304.2h0M410 285h0M413.3 280.8h0M417.5 276.7h0M421.7 275.8h0M426.7 267.5h0M431.7 265h0M434.2 260h0M438.3 252.5h0M441.7 246.7h0M443.3 241.7h0M446.7 239.3h0M450 236h0M453.3 229.3h0M456.7 221.8h0M458.3 212.7h0M462.5 203.5h0M469.2 193.5h0M473.3 190.2h0M477.5 170.7h0M482 170.7h0M478.3 181h0M481.7 181h0M533.4 124.1h0M547.8 104.1h0M548.1 112.9h0M553.8 92.9h0M554.4 97.2h0M553.8 109.8h0M557.5 114.1h0M564.4 92.9h0M565.6 101h0M565 107.2h0M568.1 113.5h0M585.9 99.8h0M582.5 106h0M578.8 109.1h0M590 103.5h0M592.1 96.6h0M541.9 130.6h0M538.8 134.4h0M574.4 133.8h0M603.1 135h0M597.5 145h0M603.3 135h0M604.2 142.5h0M605 149.2h0M610 156.7h0M616.7 163.3h0M620 165h0M620 171.7h0M620.8 178.3h0M621.7 185h0M625.8 190h0M629.2 192.5h0M627.5 190.8h0M628.3 198.3h0M629.2 205h0M630 211.7h0M637 220h0M637.5 226.7h0M638.3 231.7h0M643.3 237.5h0M646.7 244.2h0M657.5 231.7h0M657.5 236.7h0M653.3 243.3h0M665.8 232.5h0M665.8 238.3h0M665 245h0M668.3 250h0M666.7 256.7h0M668.3 250h0M666.7 256.7h0M666.7 262.5h0M671.7 273.3h0M673.3 281.7h0M678.3 290h0M685 289.2h0M688.3 298.3h0M690 310h0M691.7 316.7h0M692.5 323.3h0M692.5 330h0M695.8 330.6h0M695.8 336.1h0M121.5 289h0M90.3 288h0M256 153h0M531 128h0M87.5 412.9h0M95 413.5h0M104.2 413.5h0M121.7 415.5h0M137.5 411h0M151.7 407.7h0M161.7 407.7h0M186.7 413.5h0M196.7 412.2h0M215 413.2h0M257.5 418.5h0M273.3 406.5h0M282.5 411.5h0M301.7 401.9h0M308.3 404.4h0M323.3 412.7h0M336.7 410.2h0M350 411h0M361.7 417.7h0M368.3 416.9h0M382.5 411.9h0M398.3 408.5h0M410.8 410.2h0M424.2 412.7h0M433.3 413.5h0M451.7 411.9h0M460.8 414.4h0M476.7 413.2h0M530.8 411.5h0M543.3 412.2h0M555.8 407.7h0M565.8 401.9h0M575 410.2h0M583.3 407.7h0M594.2 409.4h0M611.7 413.2h0M625 413.5h0M635 416h0M645 421h0M656.7 417.7h0M660 417.7h0M680 412.4h0M688.9 404.6h0M84.2 230.5h0M84.1 235.2h0M84.4 246.4h0M84.1 249.7h0M84.9 262.1h0M84.4 266.7h0M84 272.3h0M84.3 277.5h0M84.1 281.1h0M84.8 285h0M84.6 288.7h0M84.4 293.4h0M84.1 297.9h0M84.2 301.2h0M84.4 306.1h0M84.6 310h0M84.3 314.3h0M84.7 319.4h0M84.6 323.2h0M84.9 327.7h0M84.3 332.6h0M84.1 338.2h0M84.8 342.4h0M84.5 345.9h0M84.7 349.2h0M84.6 354.3h0M84.3 359.6h0M84.6 364.4h0M84.5 369h0M84.9 374.2h0M84.7 378.6h0M84.7 381.9h0M85 386.7h0M84.3 391.9h0M84.7 396h0M84.5 399.2h0M84.1 402.8h0M84.8 406.2h0M84.2 409.7h0M87.4 235.3h0M88 240.6h0M87.2 244.2h0M87.2 248h0M87.6 252.3h0M87 256.2h0M87.4 260.4h0M84.5 258.7h0M83.5 269.7h0M83.3 329.9h0M83.4 335.4h0M95.1 258.9h0M99.4 261.2h0M99.3 266h0M101.4 273.3h0M102.1 278.2h0M112.4 407.6h0M115.5 272.3h0M115.3 276.4h0M115 280.4h0M115.2 283.6h0M115.8 287.6h0M115.2 408.3h0M128.1 289.2h0M128 410h0M134.2 291.5h0M156.8 276.2h0M156.6 281h0M156.4 406.9h0M168.6 262.3h0M172.1 402.9h0M174.7 246h0M173.8 250.1h0M174.5 254.8h0M179.9 242.9h0M180.1 404.5h0M183.7 229.2h0M183.7 233.6h0M183 237.4h0M184.6 222.6h0M191.1 213.4h0M190.8 218h0M195.1 191.2h0M194.7 196h0M195.1 200.4h0M195.1 204.3h0M195.5 208.7h0M198 183.6h0M215.1 171.9h0M215.4 176h0M215.3 165h0M219.3 167.3h0M218.8 407.9h0M221.2 173.4h0M221.8 177.2h0M221.2 182.8h0M222 405.6h0M223 190.3h0M223.8 194.2h0M223.1 198.3h0M223.4 203.6h0M223.2 208.9h0M223.8 213.3h0M223.8 217.8h0M223.7 221.4h0M223.4 225h0M223 228.2h0M223.3 233.7h0M223.1 238.8h0M222.9 242.9h0M223.7 247.4h0M223.2 251.8h0M223.7 257.3h0M222.9 262.1h0M223.3 266.7h0M223.2 272.2h0M223.5 277h0M223.4 281.1h0M223.7 286h0M223.2 290.4h0M222.9 295.9h0M223.5 301.1h0M223.3 305.6h0M223.7 310.6h0M223.6 315.6h0M223.2 318.9h0M223.8 322.4h0M223 327.7h0M223.4 332.4h0M223.2 335.7h0M223.5 340.7h0M223.6 344.5h0M223.4 348.4h0M223.8 352.6h0M223.6 357.4h0M223.2 362.2h0M223.5 367.7h0M223.1 372.6h0M223.4 376.2h0M223.6 381.4h0M223 385.4h0M223.7 389.8h0M223.6 393.4h0M223.1 397h0M223.1 400.4h0M243.3 166h0M243.2 170.3h0M243.1 175h0M242.5 179h0M242.8 184h0M243 188.5h0M242.6 193.5h0M243.3 197.6h0M242.6 202.1h0M242.6 206.8h0M242.4 211.9h0M242.9 217h0M243.3 221.1h0M242.6 224.9h0M242.9 228.3h0M243 233.3h0M243.2 237.5h0M242.7 241h0M243.3 245.7h0M243 250.4h0M242.7 255.5h0M243.1 260.9h0M242.7 265h0M242.7 270.1h0M243.2 273.7h0M242.9 278.2h0M243.3 283h0M242.7 286.5h0M242.8 289.9h0M243.2 294.3h0M242.9 299.1h0M242.9 303.3h0M243.2 307.1h0M243.2 312.2h0M243 315.8h0M242.9 320.8h0M243.2 326.2h0M243.2 331.1h0M243.2 335.9h0M243.1 339.4h0M243 344.3h0M242.4 348.2h0M243.2 352.8h0M242.6 356.7h0M242.4 360.4h0M243.3 365.2h0M243 383.7h0M242.8 390.5h0M243.2 395.1h0M243.2 398.4h0M248.5 142.7h0M248.3 151.8h0M248.1 156.4h0M247.7 159.6h0M251 125.3h0M251.6 129.8h0M251.2 138.2h0M251 143.6h0M251.3 149h0M266.8 77.1h0M267.3 81.9h0M269.3 84.7h0M268.9 88.1h0M265.4 93.3h0M264.6 97.8h0M264.9 101.4h0M264.5 106.3h0M265.3 111.4h0M264.5 115.8h0M264.9 121h0M265.1 125.8h0M264.9 130.7h0M265.5 136.2h0M265.1 141.7h0M264.9 145.6h0M265.4 149.5h0M265.1 402.9h0M274.2 95.4h0M273.8 98.9h0M285.3 83.4h0M285.8 86.8h0M285.5 92.4h0M282.1 87.3h0M282 91.9h0M282.1 95.1h0M279.4 406.2h0M299.4 70h0M300 74.9h0M300.1 88.2h0M299.9 92.5h0M299.3 400.5h0M300.8 85.3h0M307.8 90.4h0M307.6 93.8h0M311.2 98.4h0M323.3 114.2h0M323.6 118.7h0M323.8 408.5h0M329.7 122.9h0M321.6 105.9h0M322 405.8h0M313.5 106.5h0M313.4 111.3h0M330.4 127.1h0M332.9 132.1h0M333.5 142.1h0M333.4 404.1h0M334.3 148.9h0M334.9 157.1h0M335.2 407.7h0M339.6 169.3h0M342 178.8h0M346.8 407.5h0M351.3 196.6h0M360 209.2h0M360.5 216.8h0M365.2 224.9h0M367.4 232.9h0M370.5 238.1h0M371.9 244.5h0M375.4 252.7h0M375.9 408.7h0M378.8 257.9h0M378.8 408.3h0M438 257.8h0M438.5 408.8h0M382.2 263.5h0M386.1 270h0M385.8 277.5h0M385.6 282.9h0M385.9 292.7h0M386 296.5h0M385.8 323.8h0M386.9 289.4h0M386.5 316.5h0M387 310.3h0M387 406h0M386.4 329.5h0M393 402.7h0M398.8 312.3h0M399 325h0M404.4 308.6h0M409.5 289.3h0M410.4 292.8h0M410.5 297.3h0M410.5 301.8h0M413.5 408.5h0M421.4 410.3h0M426.4 271.7h0M426.8 275.3h0M434 263.6h0M442 251.6h0M453.4 233h0M456.7 225.1h0M457 409.7h0M458.8 216.3h0M458.6 219.9h0M462.3 208.1h0M462.2 411.9h0M469 197h0M469.4 201.7h0M472.9 408.2h0M477.7 175.8h0M477.9 184.9h0M477.4 188.3h0M477.5 407h0M482 175.3h0M482.3 184.2h0M482.2 189.8h0M481.9 195.3h0M482.2 200h0M482.2 205.1h0M481.8 210.3h0M482.1 215.4h0M481.8 220.9h0M482.4 225.6h0M482.2 230.6h0M481.7 234.1h0M482.2 238.1h0M482.2 241.4h0M481.7 244.9h0M482 248.7h0M482.4 253.6h0M481.6 257.4h0M482.1 262.7h0M482.2 268.1h0M481.9 271.6h0M482 275.3h0M482.4 279.2h0M481.7 284.5h0M482.5 290.1h0M482.4 294.3h0M482.2 299.7h0M482.1 303.8h0M481.8 308.8h0M481.6 313.2h0M482.3 316.8h0M482.2 320.7h0M482.2 324.9h0M481.6 328.8h0M481.8 333.6h0M482 337.3h0M482.4 341.7h0M481.9 346.6h0M482.1 350.8h0M481.8 354.3h0M482.4 359h0M481.7 363.6h0M482.3 369.2h0M481.9 372.9h0M482.3 376.2h0M482.3 379.9h0M482.3 384.8h0M481.7 389.4h0M482.1 392.7h0M482 395.9h0M481.6 400.9h0M533.7 129.6h0M533.6 134.1h0M548 109.5h0M547.6 117.3h0M548 122.1h0M547.3 127.6h0M547.6 131.2h0M553.4 100h0M553.7 104.2h0M554.1 401.2h0M554.4 113.2h0M564 96.1h0M563.9 113.8h0M566 110.1h0M568.3 118.1h0M567.8 123.7h0M567.8 127.8h0M568.2 133.2h0M568.2 399.6h0M586 103.4h0M579.2 114.4h0M579 118.9h0M578.6 123h0M579 128.4h0M578.7 406.1h0M591.7 106.2h0M592.4 110.5h0M591.8 114.2h0M592 118.2h0M591.9 122.2h0M592.3 125.6h0M592.2 130h0M592.5 133.9h0M592.2 139h0M592.5 143.1h0M574.8 404.2h0M602.8 140.1h0M603.2 407.5h0M604.6 152.9h0M605.1 156.1h0M610.2 161.8h0M619.9 182.3h0M620.6 411.2h0M622 189.7h0M629.1 201.1h0M629.3 214.2h0M627.9 412.4h0M628.4 208.1h0M630.3 220.9h0M638.7 234.9h0M643.4 242.7h0M647 416.9h0M657.6 240.3h0M666.1 241.6h0M665.7 415.3h0M668.5 260.3h0M668.3 269.4h0M668.5 415.2h0M668.6 254.4h0M671.5 276.7h0M671.3 412.5h0M673.1 286.2h0M673.1 410.4h0M684.7 293h0M685.1 297.7h0M685 402.7h0M688.8 302.2h0M688.4 307.6h0M689.5 313.5h0M691.7 319.9h0M691.8 327.1h0M692.8 402.5h0M695.9 341.7h0M695.7 347.1h0M696.2 350.9h0M696.1 356.1h0M695.5 360.4h0M696 363.9h0M696 367.5h0M695.8 371h0M696 375.8h0M695.9 379.7h0M696.1 385.1h0M695.4 389.4h0M695.5 392.8h0M696 396h0M695.4 400.7h0M530.8 132.6h0M530.8 137.2h0M531.4 141.4h0M530.7 145.6h0M530.7 149.8h0M530.7 154.7h0M531 159.6h0M531.1 163.8h0M531.1 169.4h0M530.8 173.1h0M531.1 176.6h0M530.6 182h0M530.6 185.8h0M531.3 190.3h0M531.3 193.9h0M531 198h0M531.4 202.7h0M531.5 208.1h0M531.5 212.7h0M531.1 217.8h0M530.8 222.5h0M531 226h0M530.5 229.8h0M530.7 235.3h0M531 240.8h0M530.9 244.6h0M531.1 248h0M530.5 252h0M530.9 255.7h0M530.7 261.1h0M530.9 266.3h0M530.9 270.3h0M530.8 274.8h0M531.3 279.4h0M530.9 284.8h0M530.6 289.3h0M531.4 293.8h0M530.6 297.4h0M530.8 300.7h0M531 304.8h0M531.5 308.9h0M531.4 313.5h0M530.7 317.2h0M530.5 321.7h0M530.8 326.6h0M531 331.5h0M530.7 336.7h0M531.5 342.2h0M531.1 346.4h0M531.1 349.6h0M531.3 353.8h0M531.2 358.8h0M530.5 364.4h0M531.1 368.4h0M530.8 373.8h0M531.3 378.8h0M531.2 383.2h0M531.2 388.2h0M530.6 393.4h0M530.6 398.6h0M530.9 403.2h0M531.3 407.7h0M543.2 407.2h0M555.7 403.3h0"/>
</g>
<g fill="none" stroke="#fff" stroke-linecap="round" stroke-opacity="0.85"><path stroke-width="2.4" d="M293.1 107V131"/><path stroke-width="2.4" d="M296.5 107V131"/><path stroke-width="1.6" d="M293.3 148V161"/><path stroke-width="1.6" d="M296.5 149V161"/><path stroke-width="2.0" d="M545.6 149V153.5"/><path stroke-width="1.2" d="M546 128V136"/><path stroke-width="1.6" d="M650.2 245V262"/><path stroke-width="1.1" d="M218.3 187.5V189.5"/><path stroke-width="1.0" d="M217.3 194V196"/><path stroke-width="1.0" d="M217.8 206.5V208"/><path stroke-width="1.1" d="M217.8 214.5V217"/><path stroke-width="1.0" d="M216.8 223.5V225.5"/><path stroke-width="1.0" d="M219 228V230"/><path stroke-width="0.9" d="M194.2 233V238"/><path stroke-width="0.9" d="M194.4 258V263"/><path stroke-width="0.8" d="M194.2 285V290"/></g>
<path fill="none" stroke="#00ff00" stroke-width="1" stroke-opacity="0.7" d="M112.5 251.5V266.8M125.6 271.5V281.1M183.8 204.7V218.5M322.2 86.8V101.1M349.2 155V180M350.5 161.3V181.7M355.8 181.7V196.7M355.8 187V196.7M442.5 223V251.7M399.2 290.5V308.3M393.8 319.7V330M628 160V190M660.5 217V246.7M95.4 247.4V252.4M267.5 66.8V69.2M295 79.9V93M281.9 86.1V100.5M294.8 104V165M550.6 89.8V103.5M558.8 88.5V108.5M563.5 78.5V86M532.1 117.9V121"/>
<g fill="none" stroke="#fff" stroke-linecap="round"><path stroke-width="1.0" stroke-opacity="0.25" d="M217.6 192.4v0M304.2 109v3.5M293.8 161.7v5M281.2 109.3v2.5M482.1 216.4v1.5M256.8 195.1v2.5M269.7 134.6v0.5M532.2 146.1v5M544.5 166.7v0M614 203v1"/><path stroke-width="1.0" stroke-opacity="0.5" d="M322.5 136.6v1M344.2 217.7v1.5M287.7 201.6v1.5M278 110.4v7M251.2 145.4v2.5M283.2 85v3.5M268.1 92.2v5M317.1 170.4v2.5M340.7 184.8v0.5M301.4 171.4v2.5M341.9 206.6v0.5M289.5 158.4v1M287 152.5v2.5M304.9 135v2.5M315.3 186.9v0.5M472.3 214.8v1M578.4 134.4v1M597.3 216.4v0M573.9 162.2v0M588.8 121.1v3.5M567.6 153.5v1.5M531.5 208.1v5M622.1 197.9v5M552.4 141.6v3.5M567.7 156v1M615.3 188.5v5"/><path stroke-width="1.0" stroke-opacity="0.75" d="M248.6 150.9v0M255.2 154.8v5M284.2 97.9v1.5M553.1 108.3v7M530.9 167.3v1.5M544 155.1v5"/><path stroke-width="1.5" stroke-opacity="0.25" d="M217.7 300v1.5M210.3 182.8v5M314.2 119v1M467 217.4v1.5M286 116.7v0.5M303.1 127.1v0M326.8 171.2v0.5M285.3 84.7v0M553.9 97.9v0.5M581 191.5v3.5M591.6 184.5v7M607.8 193v7M544.4 161.6v0M568.1 132.2v1.5M610.2 201v2.5M591.1 109v1.5"/><path stroke-width="1.5" stroke-opacity="0.5" d="M477 189.4v2.5M277.8 141.7v3.5M295 97.3v0M291.5 113.3v2.5M312.7 151.8v0M288.8 97.5v7M258 157.5v2.5M281.8 162.7v1.5M306.2 123.5v2.5M290.8 112.4v1.5M298.4 138.9v1.5M243.5 191.4v5M345.6 190.4v2.5M306.9 111.1v1.5M297 157.5v0M556.9 152.7v3.5M540.7 200.3v1.5M598.5 158v3.5M582.9 137.3v0.5M538.7 171.6v5M535.9 191.5v0.5M568.2 122.1v7M598.9 205.1v2.5M595.6 283.8v5M575.4 231.9v1M564.9 118.1v2.5M585.2 167.3v0M609.9 162v1"/><path stroke-width="1.5" stroke-opacity="0.75" d="M212.4 204.9v5M280.3 144.9v1M316.1 184.2v3.5M340.9 205v2.5M288.8 117.4v1.5M355.1 212.7v1M280.2 206.7v0.5M261.2 205.5v3.5M276.1 106.9v0M334.9 154.2v1M564 137.2v7M557.5 154.9v0.5M562.5 155.1v0"/><path stroke-width="2.0" stroke-opacity="0.25" d="M138.8 342.1v2.5M424.2 288.3v0.5"/><path stroke-width="2.0" stroke-opacity="0.5" d="M243.2 187.1v1M608 159.2v3.5"/><path stroke-width="2.0" stroke-opacity="0.75" d="M264.8 242.8v2.5"/></g>
<g font-family="'Liberation Sans', Arial, Helvetica, sans-serif" font-size="14px" fill="#000">
<text x="62.6" y="467" text-anchor="end">-200</text>
<text x="62.6" y="420" text-anchor="end">-100</text>
<text x="62.6" y="373" text-anchor="end">0</text>
<text x="62.6" y="327" text-anchor="end">100</text>
<text x="62.6" y="280" text-anchor="end">200</text>
<text x="62.6" y="233" text-anchor="end">300</text>
<text x="62.6" y="187" text-anchor="end">400</text>
<text x="62.6" y="140" text-anchor="end">500</text>
<text x="62.6" y="93" text-anchor="end">600</text>
<text x="62.6" y="47" text-anchor="end">700</text>
<text x="72.0" y="480.5" text-anchor="middle">2002/10/01</text>
<text x="141.2" y="480.5" text-anchor="middle">2003/01/01</text>
<text x="210.5" y="480.5" text-anchor="middle">2003/04/01</text>
<text x="279.7" y="480.5" text-anchor="middle">2003/07/01</text>
<text x="349.0" y="480.5" text-anchor="middle">2003/10/01</text>
<text x="418.2" y="480.5" text-anchor="middle">2004/01/01</text>
<text x="487.4" y="480.5" text-anchor="middle">2004/04/01</text>
<text x="556.7" y="480.5" text-anchor="middle">2004/07/01</text>
<text x="625.9" y="480.5" text-anchor="middle">2004/10/01</text>
<text x="384" y="501.5" text-anchor="middle">Date</text>
<text y="26" xml:space="preserve"><tspan x="254.9">CEOP </tspan><tspan x="298.2" letter-spacing="0.2">CAMP-Tongyu </tspan><tspan x="393.7">Grassland  </tspan><tspan x="464.8" letter-spacing="0.3">net_rad</tspan></text>
<text transform="translate(19.5,303.7) rotate(-90)" word-spacing="-0.5">net_rad (W/m^2)</text>
</g>
</svg>
</body></html>
